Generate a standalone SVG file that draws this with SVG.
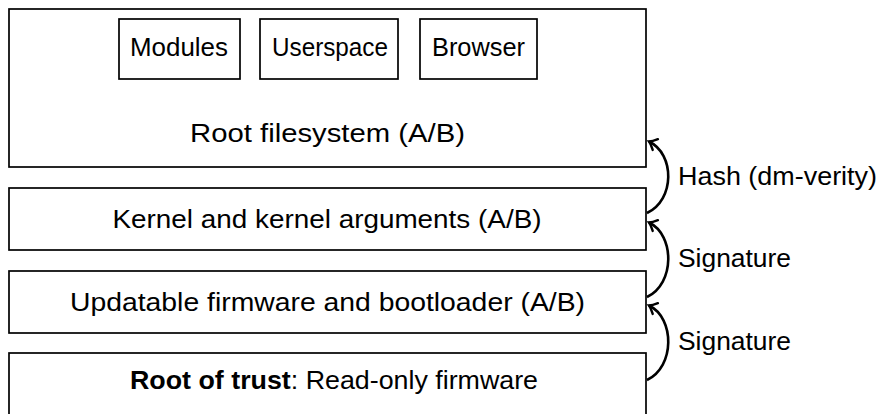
<svg xmlns="http://www.w3.org/2000/svg" width="885" height="414" viewBox="0 0 885 414">
<style>
.box{fill:#fff;stroke:#000;stroke-width:1.7}
.t{font-family:"Liberation Sans",Arial,sans-serif;font-size:25px;fill:#000}
.c{text-anchor:middle}
.b{font-weight:bold}
.arr{fill:none;stroke:#000;stroke-width:2.6;marker-end:url(#ah)}
</style>
<defs>
<marker id="ah" markerUnits="userSpaceOnUse" markerWidth="20" markerHeight="20" viewBox="-10 -10 20 20" refX="0" refY="0" orient="auto">
<path d="M-7,-6 Q-3,-1.5 0,0 Q-3,1.5 -7,6" fill="none" stroke="#000" stroke-width="2.4" stroke-linecap="round"/>
</marker>
</defs>
<g id="rootfs">
<rect class="box" x="9" y="9" width="637" height="158"/>
<text class="t c" x="327.5" y="142" textLength="275" lengthAdjust="spacingAndGlyphs">Root filesystem (A/B)</text>
</g>
<g id="modules">
<rect class="box" x="119" y="19" width="121" height="60"/>
<text class="t c" x="179" y="56" textLength="98" lengthAdjust="spacingAndGlyphs">Modules</text>
</g>
<g id="userspace">
<rect class="box" x="260" y="19" width="138" height="60"/>
<text class="t c" x="330" y="56" textLength="116" lengthAdjust="spacingAndGlyphs">Userspace</text>
</g>
<g id="browser">
<rect class="box" x="420" y="19" width="117" height="60"/>
<text class="t c" x="478.5" y="56" textLength="93" lengthAdjust="spacingAndGlyphs">Browser</text>
</g>
<g id="kernel">
<rect class="box" x="9" y="188" width="637" height="62"/>
<text class="t c" x="327" y="227.5" textLength="429" lengthAdjust="spacingAndGlyphs">Kernel and kernel arguments (A/B)</text>
</g>
<g id="firmware">
<rect class="box" x="9" y="271" width="637" height="62"/>
<text class="t c" x="327.5" y="311" textLength="515" lengthAdjust="spacingAndGlyphs">Updatable firmware and bootloader (A/B)</text>
</g>
<g id="rot">
<rect class="box" x="9" y="353" width="637" height="70"/>
<text class="t" x="130" y="389" textLength="408" lengthAdjust="spacingAndGlyphs"><tspan class="b">Root of trust</tspan>: Read-only firmware</text>
</g>
<g id="connectors">
<path class="arr" d="M647,213 C675,200 675,154 649,141.5"/>
<path class="arr" d="M647,297 C675,284 675,235 649,222.5"/>
<path class="arr" d="M647,380 C675,367 675,318 649,305.5"/>
<text class="t" x="678" y="185" textLength="199" lengthAdjust="spacingAndGlyphs">Hash (dm-verity)</text>
<text class="t" x="678" y="267" textLength="113" lengthAdjust="spacingAndGlyphs">Signature</text>
<text class="t" x="678" y="350" textLength="113" lengthAdjust="spacingAndGlyphs">Signature</text>
</g>
</svg>
